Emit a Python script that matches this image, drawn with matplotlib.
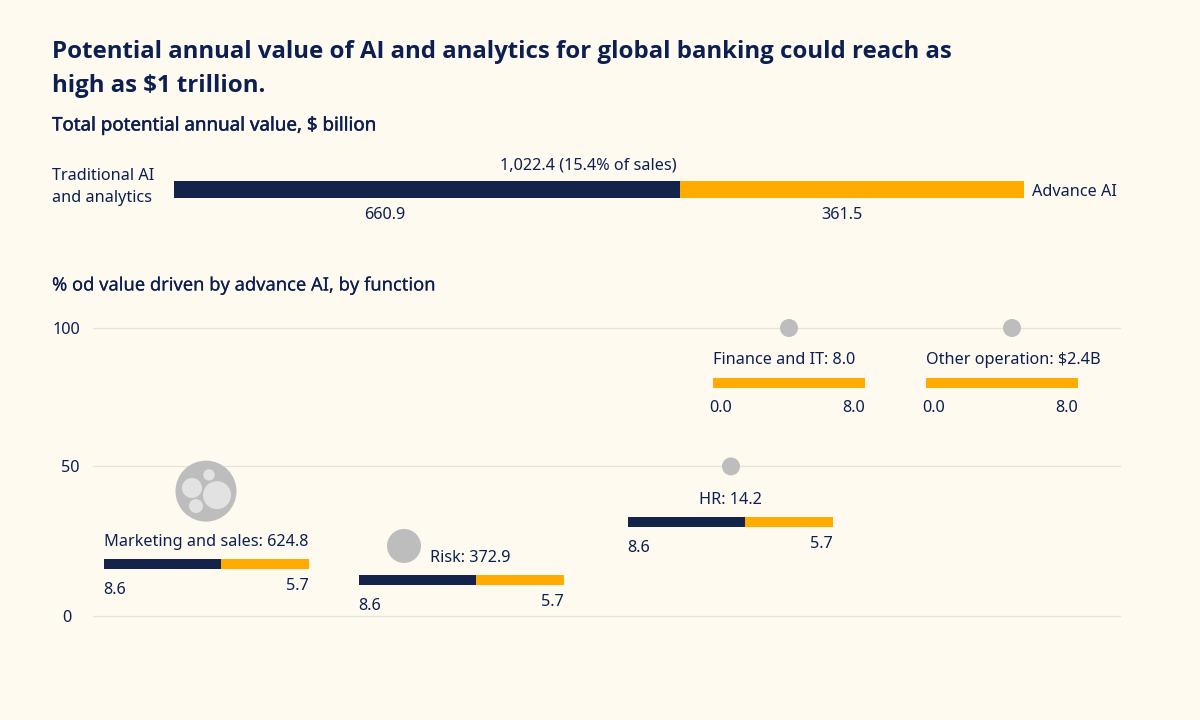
import matplotlib
matplotlib.use("Agg")
import matplotlib.pyplot as plt
import matplotlib.patheffects as pe

plt.rcParams['font.family'] = ['Noto Sans', 'DejaVu Sans']

W, H = 1200, 720
BG = '#FFFAF0'; NAVY = '#14234A'; TXT = '#0B1F51'; GOLD = '#FFAB00'
GRID = '#E8E3D8'; GREY = '#BDBDBD'; PALE = '#E2E2E2'

# Data
title_lines = ["Potential annual value of AI and analytics for global banking could reach as",
               "high as $1 trillion."]
total_parts = [608.6, 413.8]
total_labels = ["660.9", "361.5"]
y_ticks = [0, 50, 100]
functions = ["Marketing and sales: 624.8", "Risk: 372.9", "HR: 14.2",
             "Finance and IT: 8.0", "Other operation: $2.4B"]
bubble_x = [113, 311, 638, 696, 919]
bubble_y = [41.3, 22.4, 50, 100, 100]
bubble_r = [30.5, 17, 9, 9, 9]
inner_x = [124, 99, 103, 116]
inner_y = [39.9, 42.4, 36.1, 47]
inner_r = [14, 10, 7, 5.7]
seg_dark = [0.571, 0.571, 0.571, 0, 0]
seg_gold = [0.429, 0.429, 0.429, 1, 1]
left_labels = ["8.6", "8.6", "8.6", "0.0", "0.0"]
right_labels = ["5.7", "5.7", "5.7", "8.0", "8.0"]

fig = plt.figure(figsize=(12, 7.2), dpi=100, facecolor=BG)

def axpx(x0, y0, x1, y1):
    a = fig.add_axes([x0/W, 1-y1/H, (x1-x0)/W, (y1-y0)/H])
    a.patch.set_alpha(0)
    a.axis('off')
    return a

def T(x, y, s, size=11.7, ha='left', va='center', weight='normal', family=None, stroke=0):
    kw = {'family': family} if family else {}
    t = fig.text(x/W, 1-(y+1.5)/H, s, fontsize=size, ha=ha, va=va, color=TXT, fontweight=weight, **kw)
    if stroke:
        t.set_path_effects([pe.withStroke(linewidth=stroke, foreground=TXT)])

T(52, 50, title_lines[0], 17.3, weight='bold', family='Open Sans')
T(52, 84, title_lines[1], 17.3, weight='bold', family='Open Sans')
T(52, 124, "Total potential annual value, $ billion", 13.5, stroke=0.35)
T(52, 284, "% od value driven by advance AI, by function", 13.2, stroke=0.1)

# Total bar
top = axpx(174, 181, 1024, 198)
top.set_xlim(0, sum(total_parts)); top.set_ylim(0, 1)
top.barh(0.5, total_parts[0], height=1, left=0, color=NAVY)
top.barh(0.5, total_parts[1], height=1, left=total_parts[0], color=GOLD)
T(52, 175, "Traditional AI")
T(52, 197, "and analytics")
T(1032, 190, "Advance AI")
T(588.5, 164, "1,022.4 (15.4% of sales)", ha='center')
T(385, 214, total_labels[0], ha='center')
T(842, 214, total_labels[1], ha='center')

# Main axes
ax = axpx(93, 328, 1120, 616)
ax.set_xlim(0, 1027)
ax.set_yscale('function', functions=(lambda v: v**0.945, lambda v: v**(1/0.945)))
ax.set_ylim(0, 100)
for t in y_ticks:
    ax.plot([0, 1027], [t, t], color=GRID, lw=0.9, zorder=1, clip_on=False)
    py = 616 - 288*(t/100)**0.945
    if t:
        T(80, py, str(t), ha='right')
    else:
        T(62, py, str(t))
to_s = lambda r: (2*r*0.72)**2
ax.scatter(bubble_x, bubble_y, s=[to_s(r) for r in bubble_r], color=GREY, lw=0, zorder=3, clip_on=False)
ax.scatter(inner_x, inner_y, s=[to_s(r) for r in inner_r], color=PALE, lw=0, zorder=4)

# Mini bars
frames = [(104, 309, 559, 569, 206.5, 541, 'center', 589, 584),
          (359, 564, 575, 585, 470.5, 557, 'center', 605, 600),
          (628, 833, 517, 527, 730.5, 499, 'center', 547, 542),
          (713, 865, 378, 388, 713, 359, 'left', 407, 407),
          (926, 1078, 378, 388, 926, 359, 'left', 407, 407)]
for i, (x0, x1, y0, y1, lx, ly, ha, ll, rl) in enumerate(frames):
    a = axpx(x0, y0, x1, y1)
    a.set_xlim(0, 1); a.set_ylim(0, 1)
    a.barh(0.5, seg_dark[i], height=1, left=0, color=NAVY)
    a.barh(0.5, seg_gold[i], height=1, left=seg_dark[i], color=GOLD)
    T(lx, ly, functions[i], ha=ha)
    T(x0-1 if i < 3 else x0-4, ll, left_labels[i])
    T(x1, rl, right_labels[i], ha='right')

fig.savefig("out.png", dpi=100, facecolor=BG)
